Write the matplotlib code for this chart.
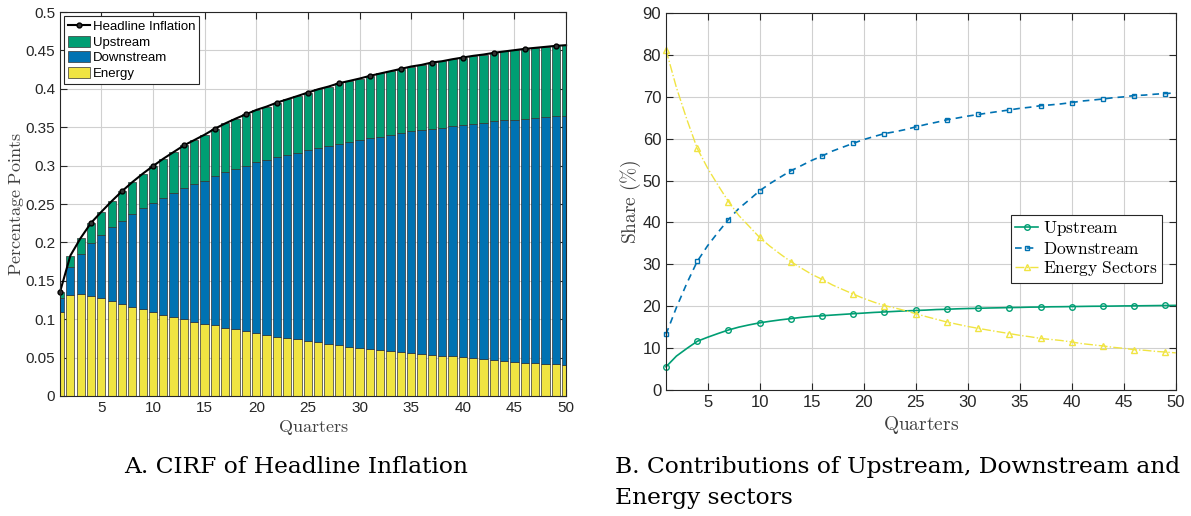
import numpy as np
import matplotlib
matplotlib.use("Agg")
import matplotlib.pyplot as plt
from matplotlib.patches import Patch
from matplotlib.lines import Line2D

plt.rcParams['font.family'] = ['Liberation Sans', 'DejaVu Sans']
plt.rcParams['mathtext.fontset'] = 'cm'

quarters = np.arange(1, 51)

# contributions to headline inflation (percentage points)
energy = [0.110, 0.132, 0.133, 0.130, 0.127, 0.124, 0.120, 0.116, 0.113, 0.109,
          0.106, 0.103, 0.100, 0.097, 0.094, 0.092, 0.089, 0.0866, 0.084, 0.0814,
          0.079, 0.077, 0.0757, 0.074, 0.072, 0.070, 0.068, 0.0661, 0.0644, 0.0627,
          0.0614, 0.060, 0.0587, 0.0574, 0.056, 0.0548, 0.0535, 0.0526, 0.0518, 0.0505,
          0.049, 0.048, 0.047, 0.0457, 0.0448, 0.0435, 0.043, 0.042, 0.0413, 0.0405]
downstream = [0.018, 0.036, 0.0524, 0.0692, 0.0826, 0.0955, 0.1085, 0.1207, 0.1314, 0.1424,
              0.1523, 0.1615, 0.1708, 0.1785, 0.1865, 0.1945, 0.2025, 0.2094, 0.2160, 0.2227,
              0.2281, 0.2339, 0.2382, 0.2429, 0.2482, 0.2533, 0.2576, 0.2627, 0.2664, 0.2703,
              0.2742, 0.2778, 0.2813, 0.2848, 0.2885, 0.2911, 0.2948, 0.2968, 0.2996, 0.3025,
              0.3056, 0.3078, 0.3105, 0.3131, 0.3152, 0.3178, 0.3192, 0.3211, 0.3227, 0.3241]
upstream = [0.0075, 0.0148, 0.0204, 0.0262, 0.0302, 0.0342, 0.0382, 0.0418, 0.0450, 0.0480,
            0.0507, 0.0532, 0.0556, 0.0578, 0.0598, 0.0617, 0.0635, 0.0652, 0.0668, 0.0684,
            0.0698, 0.0712, 0.0725, 0.0738, 0.0750, 0.0762, 0.0774, 0.0785, 0.0795, 0.0804,
            0.0813, 0.0822, 0.0830, 0.0838, 0.0846, 0.0853, 0.0860, 0.0866, 0.0872, 0.0878,
            0.0884, 0.0889, 0.0894, 0.0899, 0.0904, 0.0908, 0.0912, 0.0916, 0.0920, 0.0923]

energy = np.array(energy)
downstream = np.array(downstream)
upstream = np.array(upstream)
headline = energy + downstream + upstream

c_green = '#009E73'
c_blue = '#0072B2'
c_yellow = '#F0E442'
spine = '#262626'


def matlab_axes(ax):
    ax.grid(True, color='#d0d0d0', linewidth=0.8)
    ax.set_axisbelow(True)
    ax.tick_params(direction='in', top=True, right=True, length=5, width=0.8,
                   colors=spine, labelcolor='#262626')
    for s in ax.spines.values():
        s.set_color(spine)
        s.set_linewidth(0.8)


fig = plt.figure(figsize=(11.91, 5.16), dpi=100)

# ---- panel A
ax1 = fig.add_axes([0.0504, 0.2326, 0.4249, 0.744])
ax1.bar(quarters, energy, width=0.8, color=c_yellow, edgecolor='#333333', linewidth=0.5)
ax1.bar(quarters, downstream, width=0.8, bottom=energy, color=c_blue,
        edgecolor='#333333', linewidth=0.5)
ax1.bar(quarters, upstream, width=0.8, bottom=energy + downstream, color=c_green,
        edgecolor='#333333', linewidth=0.5)
ax1.plot(quarters, headline, color='black', linewidth=1.5, marker='o', markersize=3.5,
         markerfacecolor='#333333', markeredgecolor='black', markevery=3, clip_on=False)
ax1.set_xlim(1, 50)
ax1.set_ylim(0, 0.5)
ax1.set_xticks(np.arange(5, 51, 5))
ax1.set_yticks(np.arange(0, 0.501, 0.05))
ax1.set_yticklabels(['%g' % round(v, 2) for v in np.arange(0, 0.501, 0.05)])
ax1.tick_params(labelsize=11)
matlab_axes(ax1)
ax1.set_xlabel(r'$\mathrm{Quarters}$', fontsize=13, color='#404040', labelpad=2)
ax1.set_ylabel(r'$\mathrm{Percentage\ Points}$', fontsize=13, color='#404040', labelpad=0)

handles = [Line2D([], [], color='black', linewidth=1.5, marker='o', markersize=3.5,
                  markerfacecolor='#333333'),
           Patch(facecolor=c_green, edgecolor='#333333', linewidth=0.5),
           Patch(facecolor=c_blue, edgecolor='#333333', linewidth=0.5),
           Patch(facecolor=c_yellow, edgecolor='#333333', linewidth=0.5)]
leg = ax1.legend(handles, ['Headline Inflation', 'Upstream', 'Downstream', 'Energy'],
                 loc='upper left', fontsize=9.5, fancybox=False, framealpha=1,
                 edgecolor='#262626', borderpad=0.3, labelspacing=0.2,
                 handlelength=1.7, handleheight=0.9, handletextpad=0.2, borderaxespad=0.3)
leg.get_frame().set_linewidth(0.8)

# ---- panel B
share_up = 100 * upstream / headline
share_down = 100 * downstream / headline
share_energy = 100 * energy / headline

ax2 = fig.add_axes([0.5592, 0.2442, 0.428, 0.7306])
ax2.plot(quarters, share_up, color=c_green, linestyle='-', linewidth=1.2, marker='o',
         markersize=4, markerfacecolor='none', markevery=3, label=r'$\mathrm{Upstream}$',
         clip_on=False)
ax2.plot(quarters, share_down, color=c_blue, linestyle=(0, (4, 3)), linewidth=1.2,
         marker='s', markersize=3.5, markerfacecolor='none', markevery=3,
         label=r'$\mathrm{Downstream}$', clip_on=False)
ax2.plot(quarters, share_energy, color=c_yellow, linestyle='-.', linewidth=1.0,
         marker='^', markersize=4, markerfacecolor='none', markevery=3,
         label=r'$\mathrm{Energy\ Sectors}$', clip_on=False)
ax2.set_xlim(1, 50)
ax2.set_ylim(0, 90)
ax2.set_xticks(np.arange(5, 51, 5))
ax2.set_yticks(np.arange(0, 91, 10))
ax2.tick_params(labelsize=12)
matlab_axes(ax2)
ax2.set_xlabel(r'$\mathrm{Quarters}$', fontsize=14, color='#404040', labelpad=3)
ax2.set_ylabel(r'$\mathrm{Share\ (\%)}$', fontsize=14, color='#404040', labelpad=0)
leg2 = ax2.legend(loc='center right', bbox_to_anchor=(0.99, 0.375), fontsize=12.5,
                  fancybox=False, framealpha=1, edgecolor='#262626', borderpad=0.25,
                  labelspacing=0.15, handlelength=1.3, handletextpad=0.3)
leg2.get_frame().set_linewidth(0.8)

# ---- captions
cap = dict(fontsize=16.8, family='DejaVu Serif', va='center')
fig.text(296 / 1191, 1 - 467 / 516, 'A. CIRF of Headline Inflation', ha='center', **cap)
fig.text(615 / 1191, 1 - 467 / 516, 'B. Contributions of Upstream, Downstream and',
         ha='left', **cap)
fig.text(615 / 1191, 1 - 498 / 516, 'Energy sectors', ha='left', **cap)

fig.savefig('out.png', dpi=100)
